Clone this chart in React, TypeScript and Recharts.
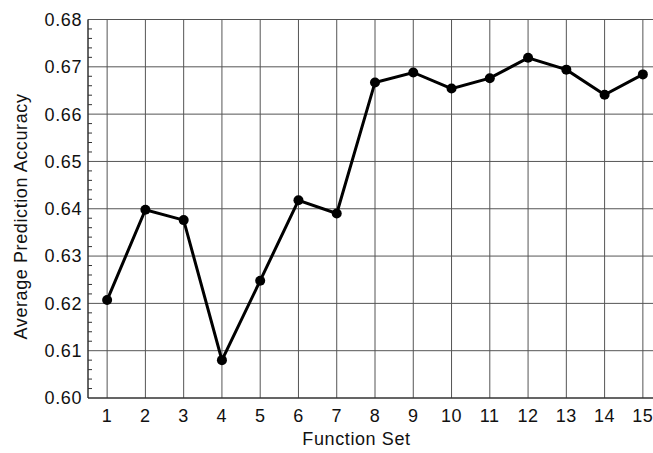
import { CartesianGrid, Line, LineChart, XAxis, YAxis } from "recharts"

// values
const functionSets = [1, 2, 3, 4, 5, 6, 7, 8, 9, 10, 11, 12, 13, 14, 15]
const accuracy = [
  0.6207, 0.6398, 0.6376, 0.608, 0.6248, 0.6418, 0.639, 0.6667, 0.6688, 0.6654, 0.6676, 0.6719,
  0.6694, 0.6641, 0.6684,
]
const majorTicks = [0.6, 0.61, 0.62, 0.63, 0.64, 0.65, 0.66, 0.67, 0.68]
const yTicks = [
  0.6, 0.602, 0.604, 0.606, 0.608, 0.61, 0.612, 0.614, 0.616, 0.618, 0.62, 0.622, 0.624, 0.626,
  0.628, 0.63, 0.632, 0.634, 0.636, 0.638, 0.64, 0.642, 0.644, 0.646, 0.648, 0.65, 0.652, 0.654,
  0.656, 0.658, 0.66, 0.662, 0.664, 0.666, 0.668, 0.67, 0.672, 0.674, 0.676, 0.678, 0.68,
]

const data = functionSets.map((set, i) => ({ set, acc: accuracy[i] }))

const font = "'Liberation Sans', Arial, Helvetica, sans-serif"
const textColor = "#111"

// y ticks: labels on the 0.01 steps, small inward marks for the rest
function YTick(props: any) {
  const { x, y, payload } = props
  const v = payload.value
  const isMajor = majorTicks.some((m) => Math.abs(m - v) < 1e-9)
  const axisX = x + 6
  if (!isMajor) {
    return <line x1={axisX} x2={axisX + 4} y1={y} y2={y} stroke="#333" strokeWidth={1} />
  }
  return (
    <text
      x={x}
      y={y}
      dy="0.355em"
      textAnchor="end"
      fontSize={18}
      letterSpacing={0.6}
      fontFamily={font}
      fill={textColor}
    >
      {v.toFixed(2)}
    </text>
  )
}

export default function App() {
  return (
    <div
      style={{
        position: "absolute",
        left: 0,
        top: 0,
        width: 653,
        height: 453,
        overflow: "hidden",
        background: "#fff",
      }}
    >
      <LineChart
        width={670}
        height={453}
        data={data}
        margin={{ top: 19.5, right: 8, bottom: 0, left: 0 }}
      >
        <CartesianGrid stroke="#555" strokeWidth={1} horizontalValues={majorTicks} />
        <XAxis
          dataKey="set"
          type="number"
          domain={[0.5, 15.5]}
          ticks={functionSets}
          allowDataOverflow
          height={55}
          tickLine={false}
          tickMargin={5}
          stroke="#222"
          tick={{ fontSize: 18, fill: textColor, fontFamily: font, letterSpacing: 0.6 }}
          label={{
            content: () => (
              <text
                x={356.5}
                y={445}
                textAnchor="middle"
                fontSize={18}
                letterSpacing={0.6}
                fontFamily={font}
                fill={textColor}
              >
                Function Set
              </text>
            ),
          }}
        />
        <YAxis
          type="number"
          domain={[0.6, 0.68]}
          ticks={yTicks}
          interval={0}
          allowDataOverflow
          width={88}
          tickLine={false}
          tickMargin={0}
          stroke="#222"
          tick={<YTick />}
          label={{
            content: () => (
              <text
                x={27}
                y={216.5}
                transform="rotate(-90 27 216.5)"
                textAnchor="middle"
                fontSize={18}
                letterSpacing={0.6}
                fontFamily={font}
                fill={textColor}
              >
                Average Prediction Accuracy
              </text>
            ),
          }}
        />
        <Line
          type="linear"
          dataKey="acc"
          stroke="#000"
          strokeWidth={3}
          dot={{ r: 5, fill: "#000", stroke: "#000", strokeWidth: 0 }}
          activeDot={false}
          isAnimationActive={false}
        />
      </LineChart>
    </div>
  )
}
